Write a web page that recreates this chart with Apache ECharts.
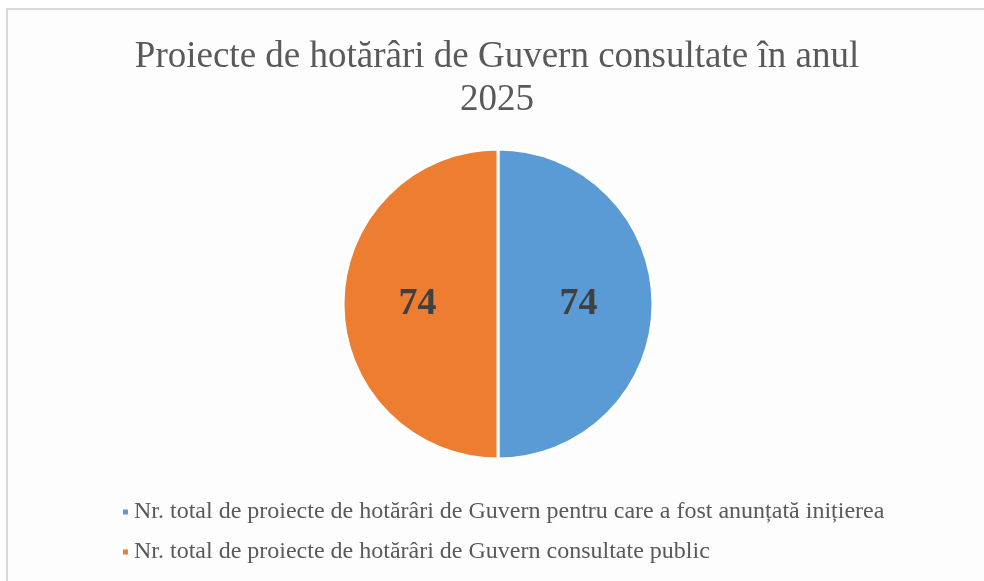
<!DOCTYPE html>
<html>
<head>
    <meta charset="utf-8" />
    <title>Proiecte de hotărâri de Guvern</title>
    <script src="https://cdn.jsdelivr.net/npm/echarts@6/dist/echarts.min.js"></script>
    <style>
        html, body { margin: 0; padding: 0; background: #fff; }
        #frame { position: absolute; left: 6px; top: 8px; width: 990px; height: 590px;
                 border-top: 2px solid #d9d9d9; border-left: 2px solid #d9d9d9; background: #fdfdfd; }
        #container { position: absolute; left: 0; top: 0; width: 984px; height: 581px; }
    </style>
</head>
<body>
    <div id="frame"></div>
    <div id="container"></div>
    <script>
        var titleText = 'Proiecte de hotărâri de Guvern consultate în anul\n2025';
        var categories = [
            'Nr. total de proiecte de hotărâri de Guvern pentru care a fost anunțată inițierea',
            'Nr. total de proiecte de hotărâri de Guvern consultate public'
        ];
        var values = [74, 74];
        var colors = ['#5b9bd5', '#ed7d31'];

        var myChart = echarts.init(document.getElementById('container'));
        var option = {
            animation: false,
            title: {
                text: titleText,
                left: 492,
                textAlign: 'center',
                top: 31,
                textStyle: {
                    fontFamily: 'Liberation Serif',
                    fontWeight: 'normal',
                    fontSize: 37,
                    lineHeight: 43,
                    color: '#595959'
                }
            },
            legend: {
                orient: 'vertical',
                left: 116,
                top: 495,
                itemWidth: 7,
                itemHeight: 7,
                itemGap: 16,
                icon: 'rect',
                textStyle: {
                    fontFamily: 'Liberation Serif',
                    fontSize: 24,
                    color: '#595959'
                },
                data: categories
            },
            series: [{
                type: 'pie',
                center: [498, 304],
                radius: [0, 155],
                startAngle: 90,
                clockwise: true,
                itemStyle: { borderColor: '#fff', borderWidth: 3 },
                label: {
                    show: true,
                    position: 'inside',
                    formatter: '{c}',
                    fontFamily: 'Liberation Serif',
                    fontWeight: 'bold',
                    fontSize: 38,
                    color: '#404040'
                },
                labelLine: { show: false },
                emphasis: { disabled: true },
                data: categories.map(function (name, i) {
                    return { name: name, value: values[i], itemStyle: { color: colors[i] } };
                })
            }]
        };
        myChart.setOption(option);
    </script>
</body>
</html>
